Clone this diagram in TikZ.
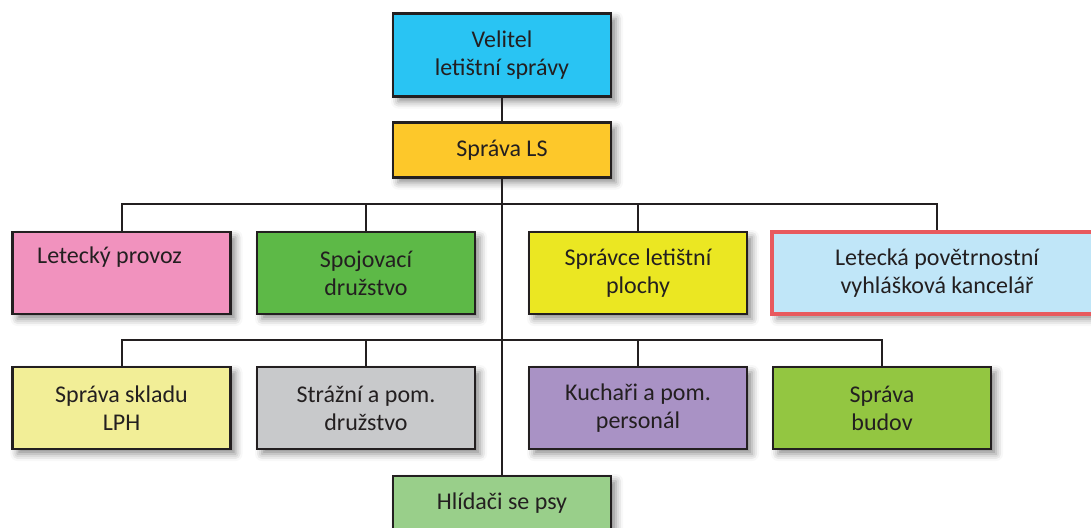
\documentclass[tikz,border=0pt]{standalone}
\usepackage{fontspec}
\setmainfont{Carlito}
\usetikzlibrary{shadows.blur}

\definecolor{ink}{RGB}{35,31,32}
\definecolor{velitelc}{RGB}{41,196,243}
\definecolor{lsc}{RGB}{253,200,42}
\definecolor{provozc}{RGB}{241,146,190}
\definecolor{spojc}{RGB}{93,185,71}
\definecolor{plochac}{RGB}{235,231,34}
\definecolor{pocasic}{RGB}{192,230,248}
\definecolor{pocasiedge}{RGB}{232,90,94}
\definecolor{skladc}{RGB}{242,238,151}
\definecolor{strazc}{RGB}{200,201,203}
\definecolor{kucharc}{RGB}{169,146,197}
\definecolor{budovyc}{RGB}{147,198,65}
\definecolor{psic}{RGB}{153,207,138}

\tikzset{
  unit/.style={draw=ink, line width=1.2pt, text=ink, align=center,
    minimum width=109pt, minimum height=41pt, inner sep=0pt,
    font=\fontsize{12}{14}\selectfont,
    blur shadow={shadow xshift=2.5pt, shadow yshift=-2.5pt,
      shadow blur radius=3.5pt, shadow opacity=45}},
  link/.style={draw=ink, line width=1pt}
}

\begin{document}
\begin{tikzpicture}[x=0.5pt, y=-0.5pt]
  \useasboundingbox (0,0) rectangle (1091,527);

  \node[unit, fill=velitelc, minimum height=41.5pt] (velitel) at (502,55) {Velitel\\letištní správy};
  \node[unit, fill=lsc, minimum height=27.5pt] (ls) at (502,150) {Správa LS};

  \node[unit, fill=provozc] (provoz) at (121.5,273) {Letecký provoz\hspace*{12pt}\\\strut};
  \node[unit, fill=spojc] (spoj) at (366,273) {Spojovací\\družstvo};
  \node[unit, fill=plochac] (plocha) at (638,273) {Správce letištní\\plochy};
  \node[unit, fill=pocasic, draw=pocasiedge, line width=1.6pt, minimum width=165pt] (pocasi) at (937,273) {Letecká povětrnostní\\vyhlášková kancelář};

  \node[unit, fill=skladc] (sklad) at (121.5,408) {Správa skladu\\LPH};
  \node[unit, fill=strazc] (straz) at (366,408) {Strážní a pom.\\družstvo};
  \node[unit, fill=kucharc] (kuchar) at (638,408) {Kuchaři a pom.\\personál};
  \node[unit, fill=budovyc] (budovy) at (882,408) {Správa\\budov};

  \node[unit, fill=psic, minimum height=27.5pt] (psi) at (502,503.5) {Hlídači se psy};

  \coordinate (bus1) at (502,204);
  \coordinate (bus2) at (502,340);

  \draw[link] (velitel) -- (ls);
  \draw[link] (ls) -- (psi);
  \draw[link] (provoz.north) |- (bus1) -| (pocasi.north);
  \draw[link] (spoj.north) -- (spoj.north |- bus1);
  \draw[link] (plocha.north) -- (plocha.north |- bus1);
  \draw[link] (sklad.north) |- (bus2) -| (budovy.north);
  \draw[link] (straz.north) -- (straz.north |- bus2);
  \draw[link] (kuchar.north) -- (kuchar.north |- bus2);
\end{tikzpicture}
\end{document}
